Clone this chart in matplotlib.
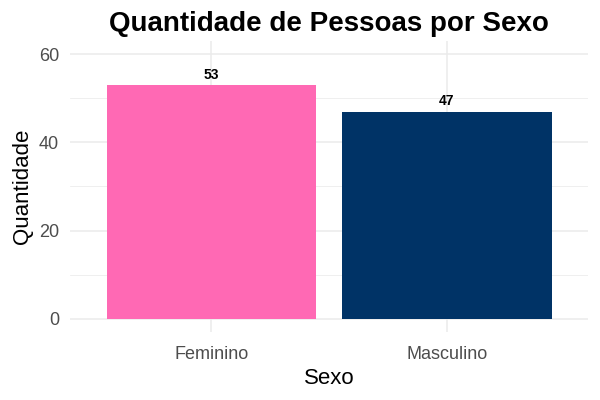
import matplotlib
matplotlib.use("Agg")
from matplotlib import pyplot as plt
from matplotlib.ticker import MultipleLocator

plt.rcParams['font.family'] = ['Liberation Sans', 'DejaVu Sans']

sexo = ["Feminino", "Masculino"]
quantidade = [53, 47]
cores = ["#FF69B4", "#003366"]

fig = plt.figure(figsize=(6, 4), dpi=100)
ax = fig.add_axes([0.117, 0.17, 0.863, 0.7275])

pos = range(len(sexo))
ax.bar(pos, quantidade, width=0.89, color=cores, zorder=2)
for x, y in zip(pos, quantidade):
    ax.text(x, y + 0.8, str(y), ha="center", va="bottom", fontsize=10,
            fontweight="bold", zorder=3)

ax.set_xlim(-0.6, 1.6)
ax.set_ylim(-3, 63)
ax.yaxis.set_major_locator(MultipleLocator(20))
ax.yaxis.set_minor_locator(MultipleLocator(10))
ax.set_xticks(list(pos))
ax.set_xticklabels(sexo)

ax.grid(which="major", color="#EBEBEB", linewidth=1.1, zorder=0)
ax.grid(which="minor", axis="y", color="#EBEBEB", linewidth=0.55, zorder=0)
ax.set_axisbelow(True)
for s in ax.spines.values():
    s.set_visible(False)
ax.tick_params(which="both", length=0, labelsize=13, labelcolor="#4D4D4D")
ax.tick_params(axis="x", pad=10)
ax.tick_params(axis="y", pad=8)

ax.set_xlabel("Sexo", fontsize=16, labelpad=4)
ax.set_ylabel("Quantidade", fontsize=16, labelpad=4)
ax.set_title("Quantidade de Pessoas por Sexo", fontsize=20, fontweight="bold", pad=7)

fig.savefig("out.png", dpi=100)
